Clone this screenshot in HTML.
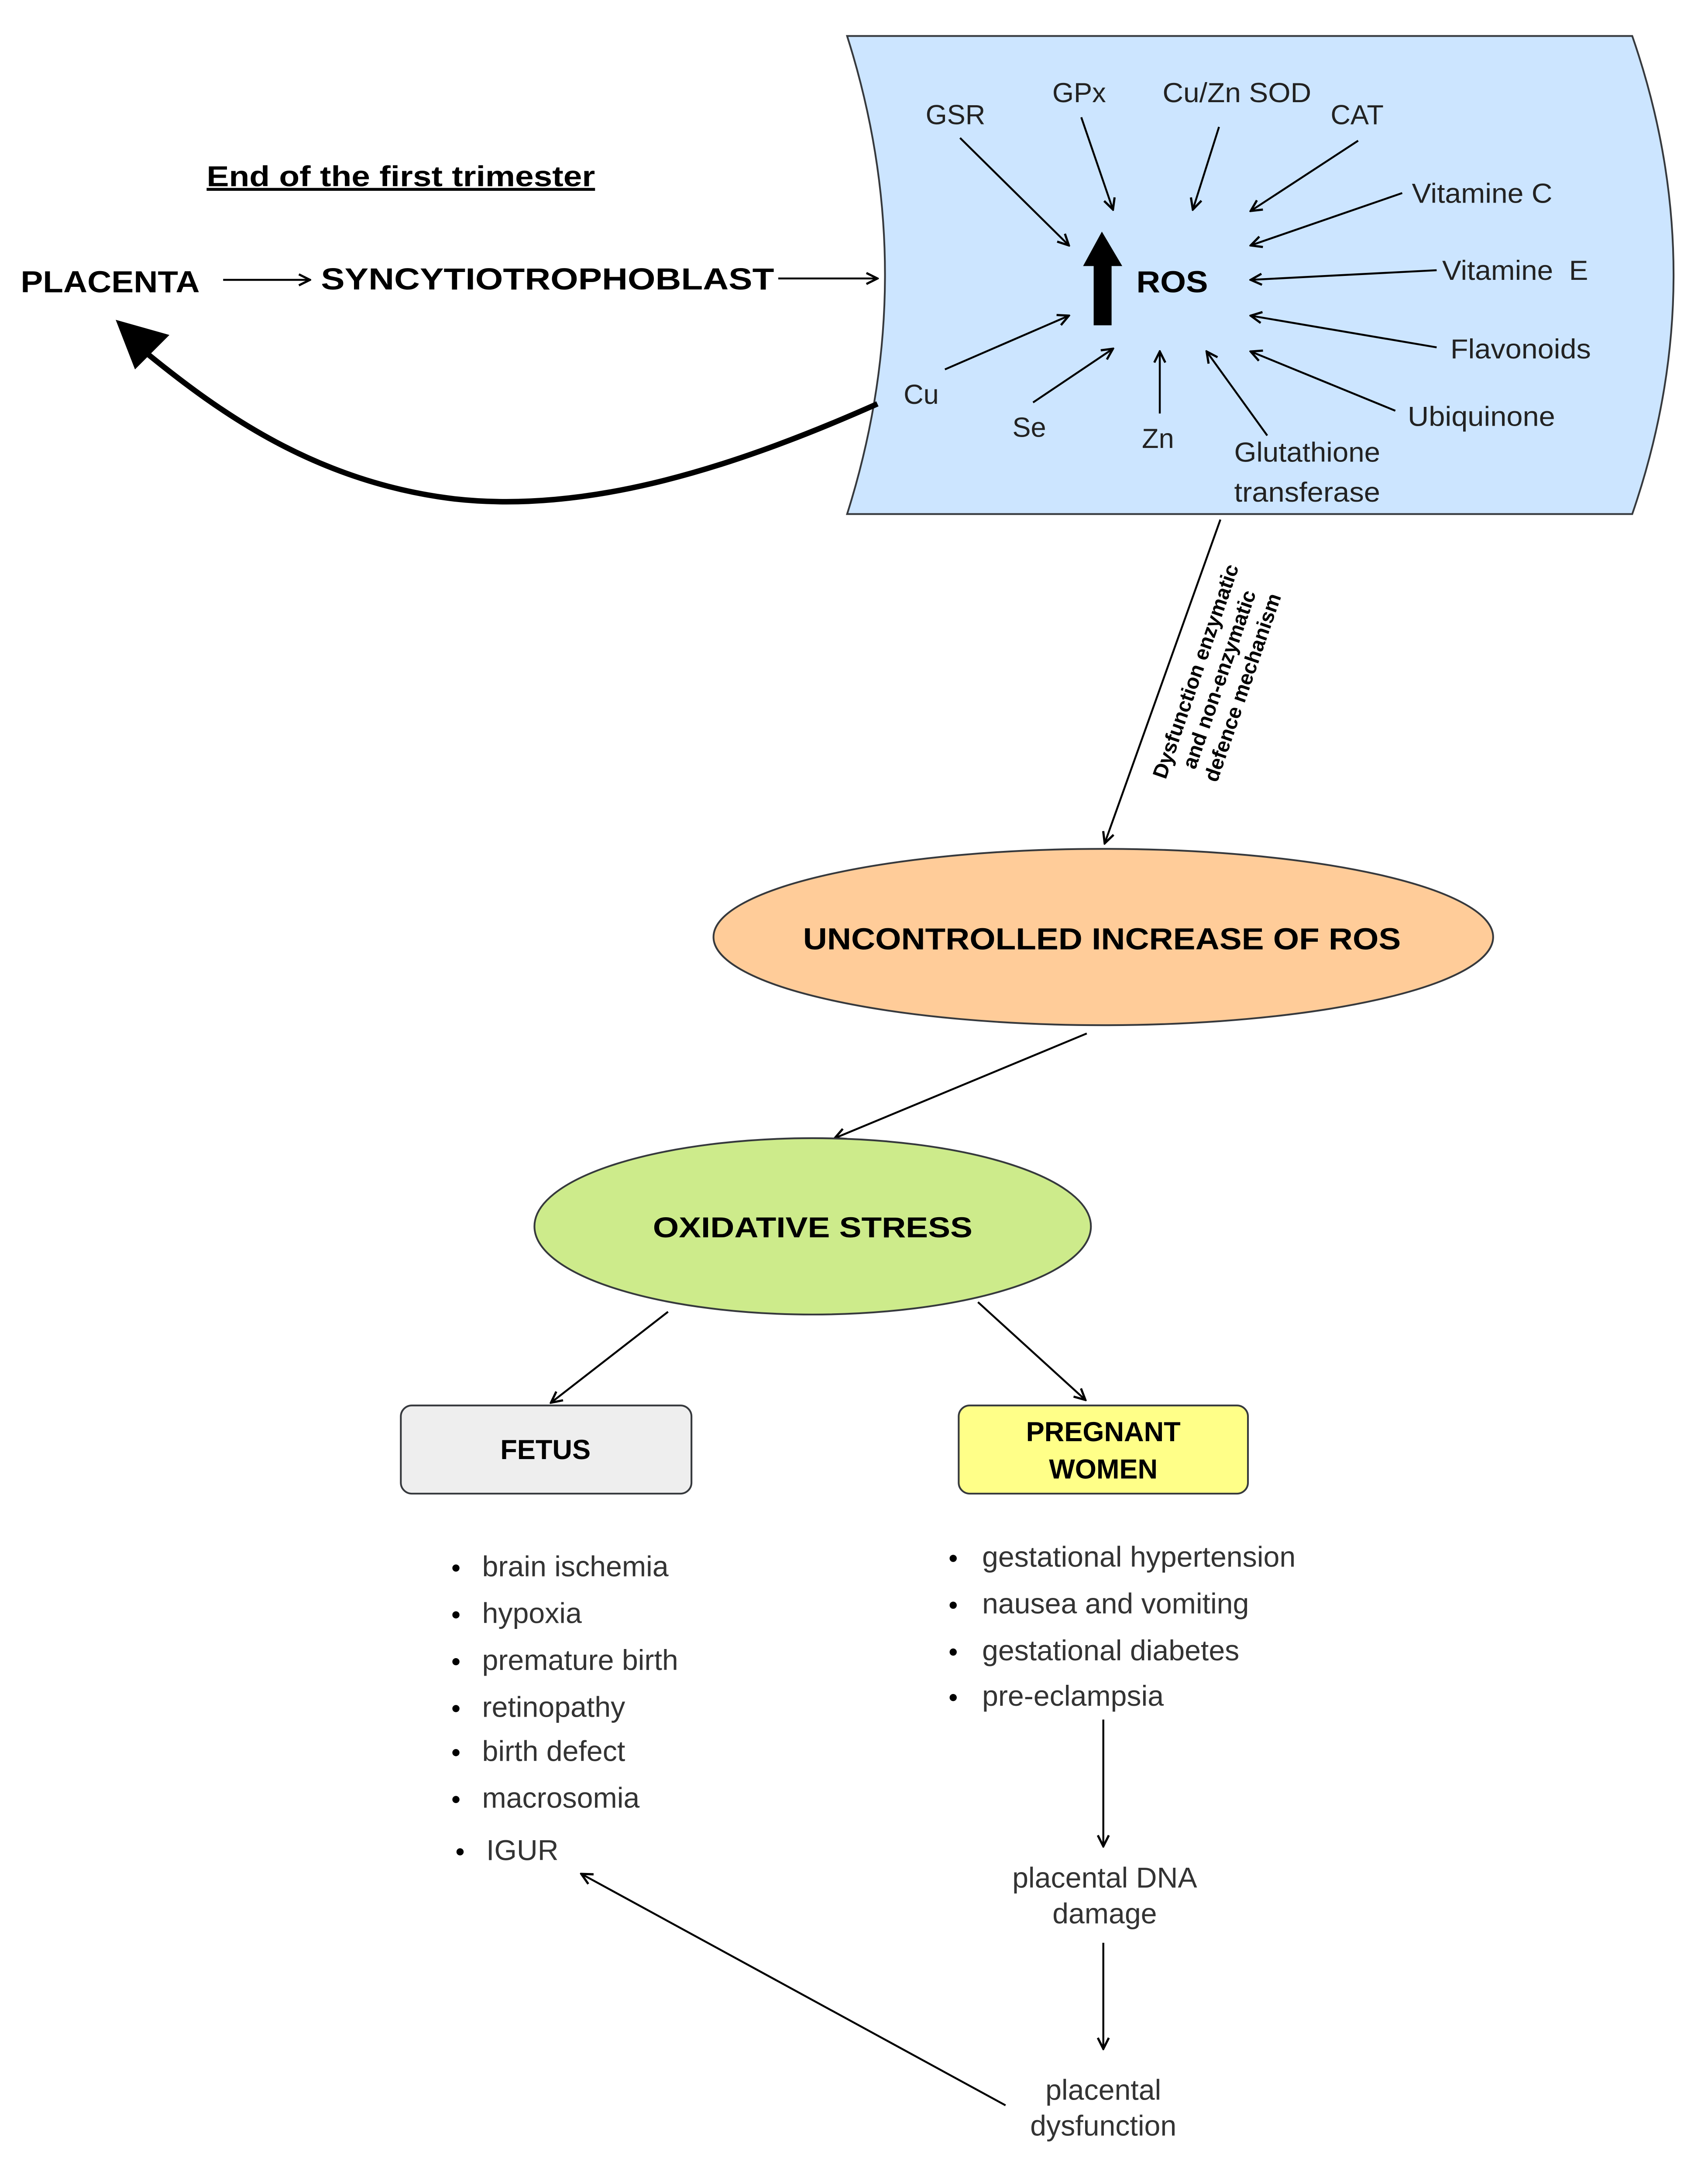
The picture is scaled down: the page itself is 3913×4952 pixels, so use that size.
<!DOCTYPE html>
<html><head><meta charset="utf-8"><style>
html,body{margin:0;padding:0;background:#fff;}
svg{display:block;}
text{font-family:"Liberation Sans",sans-serif;}
</style></head><body>
<svg width="3913" height="4952" viewBox="0 0 1240 1569" xmlns="http://www.w3.org/2000/svg">
<defs>
<marker id="a" markerWidth="10" markerHeight="10" refX="9" refY="5" orient="auto" markerUnits="userSpaceOnUse"><path d="M1,1 L9,5 L1,9" fill="none" stroke="#000" stroke-width="1.6"/></marker>
</defs>
<rect width="1240" height="1569" fill="#fff"/>
<path d="M615,26 L1185,26 Q1245,199 1185,373 L615,373 Q670,199 615,26 Z" fill="#cce5ff" stroke="#36393d" stroke-width="1.3"/>
<text x="150" y="135" font-size="21" font-weight="bold" text-decoration="underline" fill="#000" textLength="282" lengthAdjust="spacingAndGlyphs">End of the first trimester</text>
<text x="15" y="212" font-size="22" font-weight="bold" fill="#000" textLength="130" lengthAdjust="spacingAndGlyphs">PLACENTA</text>
<line x1="162" y1="203" x2="225" y2="203" stroke="#000" stroke-width="1.4" marker-end="url(#a)"/>
<text x="233" y="210" font-size="22" font-weight="bold" fill="#000" textLength="329" lengthAdjust="spacingAndGlyphs">SYNCYTIOTROPHOBLAST</text>
<line x1="565" y1="202" x2="637" y2="202" stroke="#000" stroke-width="1.4" marker-end="url(#a)"/>
<path d="M637,293 C520,345 420,372 330,362 C230,350 160,300 105,255" fill="none" stroke="#000" stroke-width="4"/>
<path d="M84,232 L123,243 L98,268 Z" fill="#000"/>
<path d="M800,170 L788,192 L795,192 L795,235 L806,235 L806,192 L813,192 Z" fill="#000" stroke="#000" stroke-width="2"/>
<text x="825" y="212" font-size="22" font-weight="bold" fill="#000" textLength="52" lengthAdjust="spacingAndGlyphs">ROS</text>
<g font-size="20" fill="#222">
<text x="672" y="90">GSR</text>
<text x="764" y="74">GPx</text>
<text x="844" y="74" textLength="108" lengthAdjust="spacingAndGlyphs">Cu/Zn SOD</text>
<text x="966" y="90">CAT</text>
<text x="1025" y="147" textLength="102" lengthAdjust="spacingAndGlyphs">Vitamine C</text>
<text x="1047" y="203" textLength="106" lengthAdjust="spacingAndGlyphs">Vitamine&#160; E</text>
<text x="1053" y="260" textLength="102" lengthAdjust="spacingAndGlyphs">Flavonoids</text>
<text x="1022" y="309" textLength="107" lengthAdjust="spacingAndGlyphs">Ubiquinone</text>
<text x="896" y="335" textLength="106" lengthAdjust="spacingAndGlyphs">Glutathione</text>
<text x="896" y="364" textLength="106" lengthAdjust="spacingAndGlyphs">transferase</text>
<text x="829" y="325">Zn</text>
<text x="735" y="317">Se</text>
<text x="656" y="293">Cu</text>
</g>
<g stroke="#000" stroke-width="1.4" marker-end="url(#a)">
<line x1="697" y1="100" x2="776" y2="178"/>
<line x1="785" y1="85" x2="808" y2="152"/>
<line x1="885" y1="92" x2="866" y2="152"/>
<line x1="986" y1="102" x2="908" y2="153"/>
<line x1="1018" y1="140" x2="908" y2="178"/>
<line x1="1043" y1="196" x2="908" y2="203"/>
<line x1="1043" y1="252" x2="908" y2="229"/>
<line x1="1013" y1="298" x2="908" y2="255"/>
<line x1="920" y1="316" x2="876" y2="255"/>
<line x1="842" y1="300" x2="842" y2="255"/>
<line x1="750" y1="292" x2="808" y2="253"/>
<line x1="686" y1="268" x2="776" y2="229"/>
<line x1="886" y1="377" x2="802" y2="612"/>
<line x1="789" y1="750" x2="606" y2="826"/>
<line x1="485" y1="952" x2="400" y2="1018"/>
<line x1="710" y1="945" x2="788" y2="1016"/>
<line x1="801" y1="1248" x2="801" y2="1340"/>
<line x1="801" y1="1410" x2="801" y2="1487"/>
<line x1="730" y1="1528" x2="422" y2="1360"/>
</g>
<g transform="translate(888,494) rotate(-71)" font-size="15" font-weight="bold" fill="#000" text-anchor="middle">
<text x="0" y="-16">Dysfunction enzymatic</text>
<text x="0" y="2">and non-enzymatic</text>
<text x="0" y="20">defence mechanism</text>
</g>
<ellipse cx="801" cy="680" rx="283" ry="64" fill="#ffcc99" stroke="#36393d" stroke-width="1.3"/>
<text x="583" y="689" font-size="22" font-weight="bold" fill="#000" textLength="434" lengthAdjust="spacingAndGlyphs">UNCONTROLLED INCREASE OF ROS</text>
<ellipse cx="590" cy="890" rx="202" ry="64" fill="#cdeb8b" stroke="#36393d" stroke-width="1.3"/>
<text x="474" y="898" font-size="21" font-weight="bold" fill="#000" textLength="232" lengthAdjust="spacingAndGlyphs">OXIDATIVE STRESS</text>
<rect x="291" y="1020" width="211" height="64" rx="8" fill="#eeeeee" stroke="#36393d" stroke-width="1.3"/>
<text x="396" y="1059" font-size="20" font-weight="bold" text-anchor="middle" fill="#000">FETUS</text>
<rect x="696" y="1020" width="210" height="64" rx="8" fill="#ffff88" stroke="#36393d" stroke-width="1.3"/>
<text x="801" y="1046" font-size="20" font-weight="bold" text-anchor="middle" fill="#000">PREGNANT</text>
<text x="801" y="1073" font-size="20" font-weight="bold" text-anchor="middle" fill="#000">WOMEN</text>
<g font-size="21" fill="#333">
<text x="350" y="1144">brain ischemia</text>
<text x="350" y="1178">hypoxia</text>
<text x="350" y="1212">premature birth</text>
<text x="350" y="1246">retinopathy</text>
<text x="350" y="1278">birth defect</text>
<text x="350" y="1312">macrosomia</text>
<text x="353" y="1350">IGUR</text>
<text x="713" y="1137">gestational hypertension</text>
<text x="713" y="1171">nausea and vomiting</text>
<text x="713" y="1205">gestational diabetes</text>
<text x="713" y="1238">pre-eclampsia</text>
<text x="802" y="1370" text-anchor="middle">placental DNA</text>
<text x="802" y="1396" text-anchor="middle">damage</text>
<text x="801" y="1524" text-anchor="middle">placental</text>
<text x="801" y="1550" text-anchor="middle">dysfunction</text>
</g>
<g fill="#000">
<circle cx="331" cy="1138" r="2.6"/><circle cx="331" cy="1172" r="2.6"/><circle cx="331" cy="1206" r="2.6"/>
<circle cx="331" cy="1240" r="2.6"/><circle cx="331" cy="1272" r="2.6"/><circle cx="331" cy="1306" r="2.6"/>
<circle cx="334" cy="1344" r="2.6"/>
<circle cx="692" cy="1131" r="2.6"/><circle cx="692" cy="1165" r="2.6"/><circle cx="692" cy="1199" r="2.6"/><circle cx="692" cy="1232" r="2.6"/>
</g>
</svg>
</body></html>
